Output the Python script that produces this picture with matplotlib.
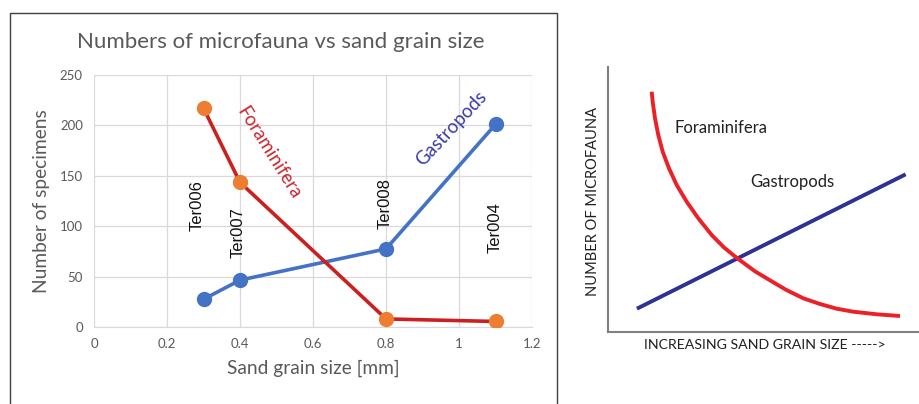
import matplotlib
matplotlib.use("Agg")
import matplotlib.pyplot as plt
from matplotlib.patches import Rectangle

plt.rcParams['font.family'] = ['Lato', 'DejaVu Sans']

# ---------------- data: left chart ----------------
grain_size = [0.3, 0.4, 0.8, 1.1]
foraminifera = [217, 143.5, 8, 5.5]
gastropods = [27.5, 46.5, 77.5, 201]
sample_names = ["Ter006", "Ter007", "Ter008", "Ter004"]
sample_label_x = [0.282, 0.395, 0.797, 1.10]
sample_label_y = [120, 94, 122, 99]
x_ticks = [0, 0.2, 0.4, 0.6, 0.8, 1, 1.2]
x_tick_labels = ["0", "0.2", "0.4", "0.6", "0.8", "1", "1.2"]
y_ticks = [0, 50, 100, 150, 200, 250]

# ---------------- data: right schematic ----------------
schem_foram_x = [1.405, 1.437, 1.511, 1.617, 1.759, 1.961, 2.209, 2.530, 2.904,
                 3.334, 3.730, 4.138, 4.727, 5.424, 5.746, 6.280, 6.817, 7.354,
                 7.887, 8.640, 9.389]
schem_foram_y = [9.068, 8.690, 8.064, 7.434, 6.804, 6.177, 5.547, 4.917, 4.291,
                 3.660, 3.190, 2.800, 2.290, 1.800, 1.580, 1.272, 1.057, 0.879,
                 0.766, 0.668, 0.604]
schem_gastro_x = [0.93, 9.57]
schem_gastro_y = [0.88, 5.95]

W, H = 919, 404
fig = plt.figure(figsize=(W / 100, H / 100), dpi=100)
fig.patch.set_facecolor("white")

# border around the left chart
fig.patches.append(Rectangle((10 / W, -0.05), (557 - 10) / W, 1.05 - 13 / H,
                             transform=fig.transFigure, fill=False,
                             edgecolor="#404040", linewidth=1.0))

gray = "#595959"
ax = fig.add_axes([94 / W, 1 - 327 / H, (532 - 94) / W, (327 - 75) / H])
ax.set_xlim(0, 1.2)
ax.set_ylim(0, 250)
ax.set_xticks(x_ticks)
ax.set_xticklabels(x_tick_labels)
ax.set_yticks(y_ticks)
ax.grid(True, color="#d9d9d9", linewidth=0.9)
ax.set_axisbelow(True)
for s in ["top", "right", "left"]:
    ax.spines[s].set_visible(False)
ax.spines["bottom"].set_color("#d9d9d9")
ax.tick_params(length=0, colors=gray, labelsize=9.5, pad=8)

ax.plot(grain_size, gastropods, color="#4472c4", linewidth=2.6, zorder=3)
ax.plot(grain_size, gastropods, 'o', color="#4472c4", markersize=10, zorder=4)
ax.plot(grain_size, foraminifera, color="#cc1f1f", linewidth=2.6, zorder=5)
ax.plot(grain_size, foraminifera, 'o', color="#ed7d31", markersize=10, zorder=6)

for name, lx, ly in zip(sample_names, sample_label_x, sample_label_y):
    ax.text(lx, ly, name, rotation=90, ha="center", va="center",
            fontsize=12, color="#111111", family=["Liberation Sans"])

ax.text(0.48, 173, "Foraminifera", rotation=-58, ha="center", va="center",
        fontsize=13.5, color="#c8282d", rotation_mode="anchor")
ax.text(0.98, 197, "Gastropods", rotation=47, ha="center", va="center",
        fontsize=13.5, color="#3a3aa8", rotation_mode="anchor")

ax.set_xlabel("Sand grain size [mm]", fontsize=13.8, color=gray, labelpad=7)
ax.set_ylabel("Number of specimens", fontsize=13.8, color=gray, labelpad=7)
fig.text(281 / W, 1 - 42 / H, "Numbers of microfauna vs sand grain size",
         ha="center", va="center", fontsize=16, color=gray)

# ---------------- right schematic ----------------
ax2 = fig.add_axes([608 / W, 1 - 332 / H, (919 - 608) / W, (332 - 67) / H])
ax2.set_xlim(0, 10)
ax2.set_ylim(0, 10)
ax2.set_xticks([])
ax2.set_yticks([])
for s in ["top", "right"]:
    ax2.spines[s].set_visible(False)
for s in ["left", "bottom"]:
    ax2.spines[s].set_color("#808080")
    ax2.spines[s].set_linewidth(1.5)
ax2.patch.set_alpha(0)

ax2.plot(schem_gastro_x, schem_gastro_y, color="#2e3192", linewidth=2.8,
         solid_capstyle="butt")
ax2.plot(schem_foram_x, schem_foram_y, color="#ec2027", linewidth=2.8,
         solid_capstyle="butt", solid_joinstyle="round")
ax2.text(2.15, 7.71, "Foraminifera", ha="left", va="center", fontsize=12,
         color="#231f20")
ax2.text(4.59, 5.66, "Gastropods", ha="left", va="center", fontsize=12,
         color="#231f20")
fig.text(593 / W, 1 - 201 / H, "NUMBER OF MICROFAUNA", rotation=90,
         ha="center", va="center", fontsize=10.5, color="#231f20")
fig.text(765 / W, 1 - 345 / H, "INCREASING SAND GRAIN SIZE ----->",
         ha="center", va="center", fontsize=10.2, color="#231f20")

fig.savefig("out.png", dpi=100, facecolor="white")
